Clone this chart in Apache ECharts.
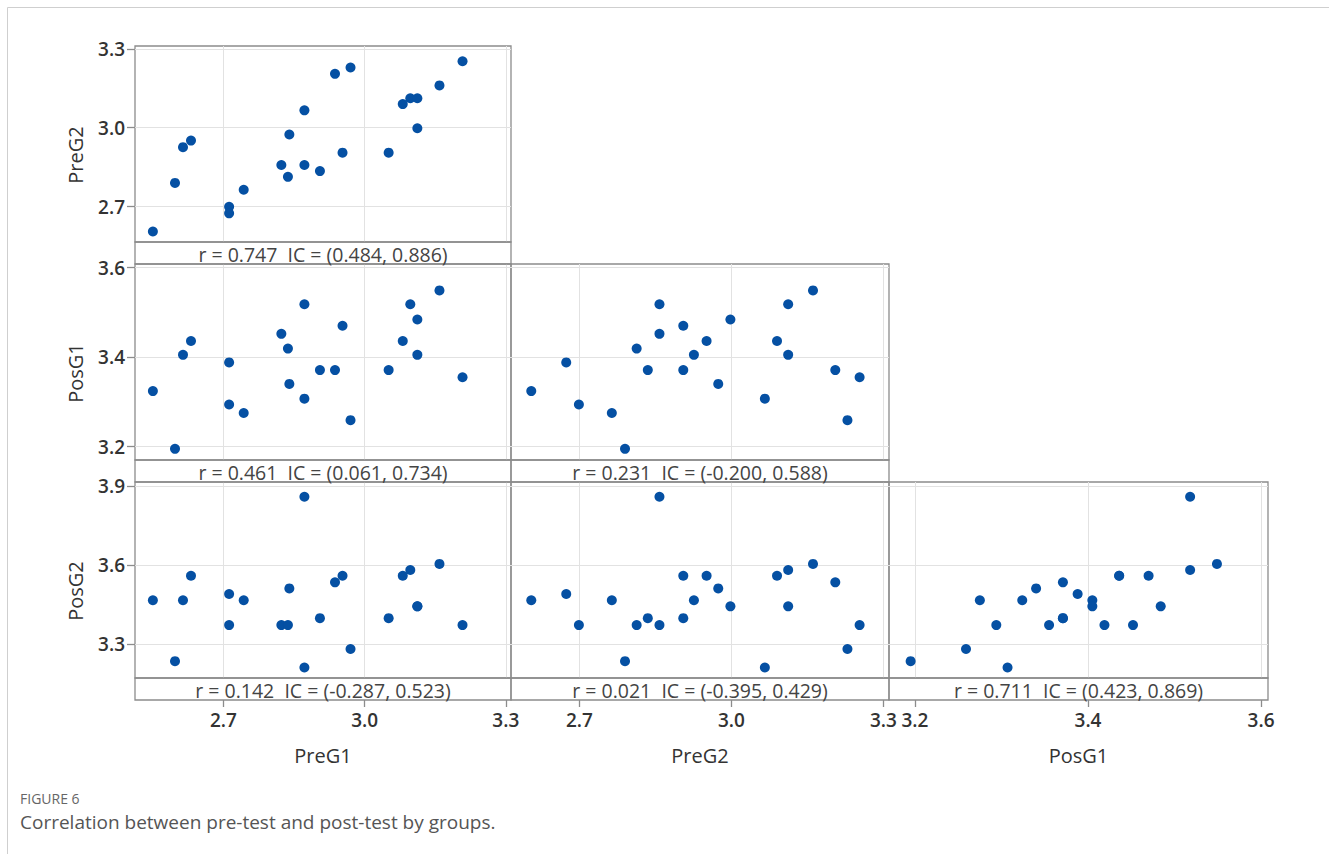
<!DOCTYPE html>
<html><head><meta charset="utf-8">
<script src="https://cdn.jsdelivr.net/npm/echarts@6/dist/echarts.min.js"></script>
<style>html,body{margin:0;padding:0;background:#fff}#c{width:1329px;height:854px}</style>
</head><body><div id="c"></div>
<script>
// ---- data (one entry per observation) ----
const preG1 = [2.550, 2.597, 2.614, 2.631, 2.712, 2.712, 2.743, 2.823, 2.837, 2.840, 2.872, 2.872, 2.905, 2.937, 2.953, 2.970, 3.051, 3.081, 3.097, 3.112, 3.112, 3.159, 3.208];
const preG2 = [2.605, 2.790, 2.926, 2.951, 2.699, 2.674, 2.764, 2.858, 2.813, 2.974, 3.066, 2.858, 2.835, 3.205, 2.905, 3.229, 2.905, 3.090, 3.112, 3.112, 2.998, 3.161, 3.253];
const posG1 = [3.324, 3.195, 3.405, 3.436, 3.294, 3.388, 3.275, 3.452, 3.419, 3.340, 3.307, 3.518, 3.371, 3.371, 3.470, 3.259, 3.371, 3.436, 3.518, 3.405, 3.484, 3.549, 3.355];
const posG2 = [3.466, 3.235, 3.466, 3.559, 3.372, 3.490, 3.466, 3.372, 3.372, 3.511, 3.211, 3.859, 3.398, 3.534, 3.559, 3.281, 3.398, 3.559, 3.581, 3.443, 3.443, 3.604, 3.372];

const varNames = ['PreG1', 'PreG2', 'PosG1', 'PosG2'];
const varTicks = [[2.7, 3.0, 3.3], [2.7, 3.0, 3.3], [3.2, 3.4, 3.6], [3.3, 3.6, 3.9]];
const varMin = [2.512, 2.565, 3.170, 3.171];
const varMax = [3.311, 3.311, 3.608, 3.915];
// correlation strips, keyed "row-col"
const corrLabels = {
  '1-0': 'r = 0.747  IC = (0.484, 0.886)',
  '2-0': 'r = 0.461  IC = (0.061, 0.734)',
  '2-1': 'r = 0.231  IC = (-0.200, 0.588)',
  '3-0': 'r = 0.142  IC = (-0.287, 0.523)',
  '3-1': 'r = 0.021  IC = (-0.395, 0.429)',
  '3-2': 'r = 0.711  IC = (0.423, 0.869)'
};
const captionTitle = 'FIGURE 6';
const captionText = 'Correlation between pre-test and post-test by groups.';

// ---- layout ----
const vars = [preG1, preG2, posG1, posG2];
const colLeft = [135, 511, 889];
const colWidth = [376, 378, 379];
const rowTop = [46, 264, 482];
const plotH = 196, stripH = 22;
const frameColor = '#8c8c8c';
const FONT = '"Open Sans", "Noto Sans", sans-serif';

const grids = [], xAxes = [], yAxes = [], series = [], graphics = [];
let k = 0;
for (let r = 1; r <= 3; r++) {
  for (let c = 0; c < r; c++) {
    const left = colLeft[c], top = rowTop[r - 1], width = colWidth[c];
    grids.push({left: left, top: top, width: width, height: plotH, show: true,
      borderColor: frameColor, borderWidth: 1.3, backgroundColor: 'transparent'});
    const bottomRow = (r === 3);
    xAxes.push({
      type: 'value', gridIndex: k, min: varMin[c], max: varMax[c],
      offset: bottomRow ? stripH : 0,
      axisLine: {show: false},
      axisTick: {show: bottomRow, customValues: varTicks[c], length: 7, lineStyle: {color: frameColor, width: 1.3}},
      axisLabel: {show: bottomRow, customValues: varTicks[c], margin: 10,
        formatter: v => Number(v).toFixed(1), color: '#333', fontSize: 19, fontWeight: 600, fontFamily: FONT},
      splitLine: {show: true, lineStyle: {color: '#e2e2e2', width: 1}},
      name: bottomRow ? varNames[c] : '', nameLocation: 'middle', nameGap: 45,
      nameTextStyle: {color: '#333', fontSize: 20, fontFamily: FONT}
    });
    yAxes.push({
      type: 'value', gridIndex: k, min: varMin[r], max: varMax[r],
      axisLine: {show: false},
      axisTick: {show: c === 0, customValues: varTicks[r], length: 8, lineStyle: {color: frameColor, width: 1.3}},
      axisLabel: {show: c === 0, customValues: varTicks[r], margin: 10,
        formatter: v => Number(v).toFixed(1), color: '#333', fontSize: 19, fontWeight: 600, fontFamily: FONT},
      splitLine: {show: true, lineStyle: {color: '#e2e2e2', width: 1}}
    });
    const xs = vars[c], ys = vars[r];
    series.push({
      type: 'scatter', xAxisIndex: k, yAxisIndex: k, silent: true,
      symbol: 'circle', symbolSize: 10,
      itemStyle: {color: '#0550a3', opacity: 1},
      data: xs.map((v, i) => [v, ys[i]])
    });
    // correlation strip
    graphics.push({type: 'rect', shape: {x: left, y: top + plotH, width: width, height: stripH},
      style: {fill: 'none', stroke: frameColor, lineWidth: 1.3}, z: 10});
    graphics.push({type: 'text', x: left + width / 2, y: top + plotH + stripH / 2 + 1,
      style: {text: corrLabels[r + '-' + c], fill: '#444', font: '19.5px ' + FONT,
        textAlign: 'center', textVerticalAlign: 'middle'}, z: 10});
    k++;
  }
}
// y titles (centered on full panel incl. strip)
for (let r = 1; r <= 3; r++) {
  graphics.push({type: 'text', x: 75, y: rowTop[r - 1] + (plotH + stripH) / 2, rotation: Math.PI / 2,
    style: {text: varNames[r], fill: '#333', font: '20px ' + FONT, textAlign: 'center', textVerticalAlign: 'middle'}});
}
// page border
graphics.push({type: 'polyline', shape: {points: [[7.5, 854], [7.5, 7.5], [1329, 7.5]]},
  style: {stroke: '#cfcfcf', lineWidth: 1, fill: 'none'}});
// caption
graphics.push({type: 'text', x: 20, y: 798, style: {text: captionTitle, fill: '#666', font: '14px ' + FONT, textVerticalAlign: 'middle'}});
graphics.push({type: 'text', x: 20, y: 822, style: {text: captionText, fill: '#555', font: '19px ' + FONT, textVerticalAlign: 'middle'}});

const chart = echarts.init(document.getElementById('c'), null, {renderer: 'svg'});
chart.setOption({
  animation: false,
  backgroundColor: '#fff',
  grid: grids, xAxis: xAxes, yAxis: yAxes, series: series,
  graphic: graphics
});
</script>
</body></html>
